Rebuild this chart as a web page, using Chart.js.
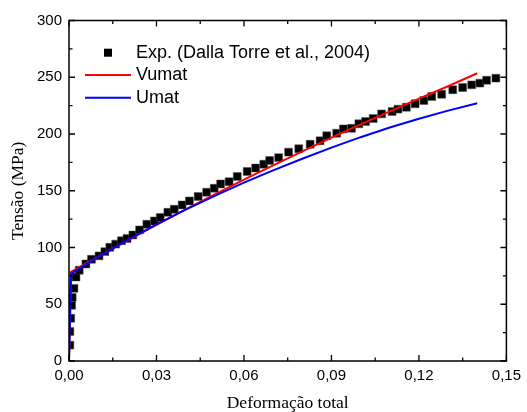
<!DOCTYPE html>
<html>
<head>
<meta charset="utf-8">
<script src="https://cdn.jsdelivr.net/npm/chart.js@4/dist/chart.umd.min.js"></script>
<style>
  html, body { margin: 0; padding: 0; background: #fff; }
  #wrap { width: 527px; height: 412px; }
</style>
</head>
<body>
<div id="wrap"><canvas id="c" width="527" height="412"></canvas></div>
<script>
// ---- data ----
const expStrain = [0.0003,0.0003,0.0006,0.0009,0.0011,0.0017,0.0024,0.0035,0.0058,0.0077,0.0103,0.0123,0.0140,0.0160,0.0180,0.0199,0.0219,0.0242,0.0267,0.0293,0.0313,0.0339,0.0361,0.0388,0.0413,0.0443,0.0472,0.0498,0.0520,0.0549,0.0577,0.0611,0.0640,0.0668,0.0688,0.0719,0.0753,0.0788,0.0827,0.0861,0.0884,0.0918,0.0941,0.0969,0.0994,0.1017,0.1043,0.1072,0.1108,0.1128,0.1157,0.1187,0.1217,0.1244,0.1278,0.1316,0.1350,0.1381,0.1409,0.1432,0.1464];
const expStress = [14,26,37.6,49,56,64,74,80,85.5,89.6,92.6,96.4,100.2,103,106,108,111,115.5,120.5,123.4,126.4,131,133.7,137.5,141,145,148.7,152.2,156,158,162.5,167,170,173.4,176.6,179.2,184,187,191,194,198.4,200.7,204.5,205,209,211,213.6,217.7,219.8,221.9,223.6,226.6,229.5,233,235,239,241,243.3,244.8,247.4,249.2];
const simStrain   = [0, 0.0007, 0.003, 0.006, 0.01, 0.015, 0.02, 0.03, 0.04, 0.05, 0.06, 0.07, 0.08, 0.09, 0.1, 0.11, 0.12, 0.13, 0.14];
const vumatStress = [0, 78.5, 81.8, 86.3, 91.8, 99.2, 106, 119.9, 133.5, 146.7, 159.8, 172.4, 184.7, 196.8, 208.5, 219.9, 231.1, 242.1, 253.5];
const umatStress  = [0, 77, 80.7, 85.4, 91.5, 99.1, 106.5, 120.3, 133.4, 145.5, 157.1, 167.9, 178.2, 188, 197.2, 205.7, 213.5, 220.6, 227.1];
const seriesLabels = ['Exp. (Dalla Torre et al., 2004)', 'Vumat', 'Umat'];
const xTicks = [0, 0.03, 0.06, 0.09, 0.12, 0.15];
const xTickLabels = ['0,00', '0,03', '0,06', '0,09', '0,12', '0,15'];
const xMinorTicks = [0.015, 0.045, 0.075, 0.105, 0.135];
const yTicks = [0, 50, 100, 150, 200, 250, 300];
const yTickLabels = ['0', '50', '100', '150', '200', '250', '300'];
const yMinorTicks = [25, 75, 125, 175, 225, 275];
const xTitle = 'Deformação total';
const yTitle = 'Tensão (MPa)';

const zip = (xs, ys) => xs.map((x, i) => ({ x, y: ys[i] }));

const frameTicks = {
  id: 'frameTicks',
  afterDatasetsDraw(chart) {
    const { ctx, chartArea: a, scales: { x, y } } = chart;
    ctx.save();
    ctx.strokeStyle = '#000';
    ctx.lineWidth = 1.3;
    ctx.beginPath();
    const seg = (x1, y1, x2, y2) => { ctx.moveTo(x1, y1); ctx.lineTo(x2, y2); };
    const maj = 6, min = 3.5;
    xTicks.forEach(v => { const p = x.getPixelForValue(v); seg(p, a.bottom, p, a.bottom - maj); seg(p, a.top, p, a.top + maj); });
    xMinorTicks.forEach(v => { const p = x.getPixelForValue(v); seg(p, a.bottom, p, a.bottom - min); seg(p, a.top, p, a.top + min); });
    yTicks.forEach(v => { const p = y.getPixelForValue(v); seg(a.left, p, a.left + maj, p); seg(a.right, p, a.right - maj, p); });
    yMinorTicks.forEach(v => { const p = y.getPixelForValue(v); seg(a.left, p, a.left + min, p); seg(a.right, p, a.right - min, p); });
    ctx.stroke();
    ctx.lineWidth = 1.5;
    ctx.strokeRect(a.left, a.top, a.right - a.left, a.bottom - a.top);
    ctx.restore();
  }
};

const customLegend = {
  id: 'customLegend',
  afterDraw(chart) {
    const { ctx } = chart;
    const ds = chart.data.datasets;
    const x0 = 85, x1 = 131, tx = 136;
    const rows = [52.7, 75, 97.7];
    ctx.save();
    ctx.font = '18px "Liberation Sans", Arial, sans-serif';
    ctx.textBaseline = 'middle';
    ctx.textAlign = 'left';
    ds.forEach((d, i) => {
      const yy = rows[i];
      if (d.showLine) {
        ctx.strokeStyle = d.borderColor;
        ctx.lineWidth = 2;
        ctx.beginPath(); ctx.moveTo(x0, yy); ctx.lineTo(x1, yy); ctx.stroke();
      } else {
        ctx.fillStyle = d.backgroundColor;
        ctx.fillRect((x0 + x1) / 2 - 4, yy - 4, 8, 8);
      }
      ctx.fillStyle = '#000';
      ctx.fillText(d.label, tx, yy);
    });
    ctx.restore();
  }
};

new Chart(document.getElementById('c'), {
  type: 'scatter',
  data: {
    datasets: [
      { label: seriesLabels[0], data: zip(expStrain, expStress), pointStyle: 'rect', pointRadius: 5.6,
        backgroundColor: '#000', borderColor: '#555', borderWidth: 0.5, showLine: false, order: 3 },
      { label: seriesLabels[1], data: zip(simStrain, vumatStress), showLine: true, pointRadius: 0,
        borderColor: '#ff0000', backgroundColor: '#ff0000', borderWidth: 2, tension: 0, order: 2 },
      { label: seriesLabels[2], data: zip(simStrain, umatStress), showLine: true, pointRadius: 0,
        borderColor: '#0000ff', backgroundColor: '#0000ff', borderWidth: 2, tension: 0, order: 1 }
    ]
  },
  options: {
    responsive: false,
    animation: false,
    devicePixelRatio: 1,
    layout: { padding: { top: 20.5, right: 18.5, left: 0, bottom: 0 } },
    plugins: { legend: { display: false }, tooltip: { enabled: false } },
    scales: {
      x: {
        type: 'linear', min: 0, max: 0.15,
        afterBuildTicks: s => { s.ticks = xTicks.map(v => ({ value: v })); },
        afterFit: s => { s.height = 51; },
        grid: { display: false, drawTicks: false },
        border: { display: false },
        ticks: { padding: 6, color: '#000', font: { family: '"Liberation Sans", Arial, sans-serif', size: 15 },
          maxRotation: 0, autoSkip: false, callback: (v, i) => xTickLabels[i] },
        title: { display: true, text: xTitle, color: '#000', padding: { top: 0, bottom: 0 },
          font: { family: '"Liberation Serif", "Times New Roman", serif', size: 17.5, lineHeight: 1 } }
      },
      y: {
        type: 'linear', min: 0, max: 300,
        afterBuildTicks: s => { s.ticks = yTicks.map(v => ({ value: v })); },
        afterFit: s => { s.width = 69; },
        grid: { display: false, drawTicks: false },
        border: { display: false },
        ticks: { padding: 7, color: '#000', font: { family: '"Liberation Sans", Arial, sans-serif', size: 15 },
          autoSkip: false, callback: (v, i) => yTickLabels[i] },
        title: { display: true, text: yTitle, color: '#000', padding: { top: 10, bottom: 0 },
          font: { family: '"Liberation Serif", "Times New Roman", serif', size: 17.5, lineHeight: 1 } }
      }
    }
  },
  plugins: [frameTicks, customLegend]
});
</script>
</body>
</html>
